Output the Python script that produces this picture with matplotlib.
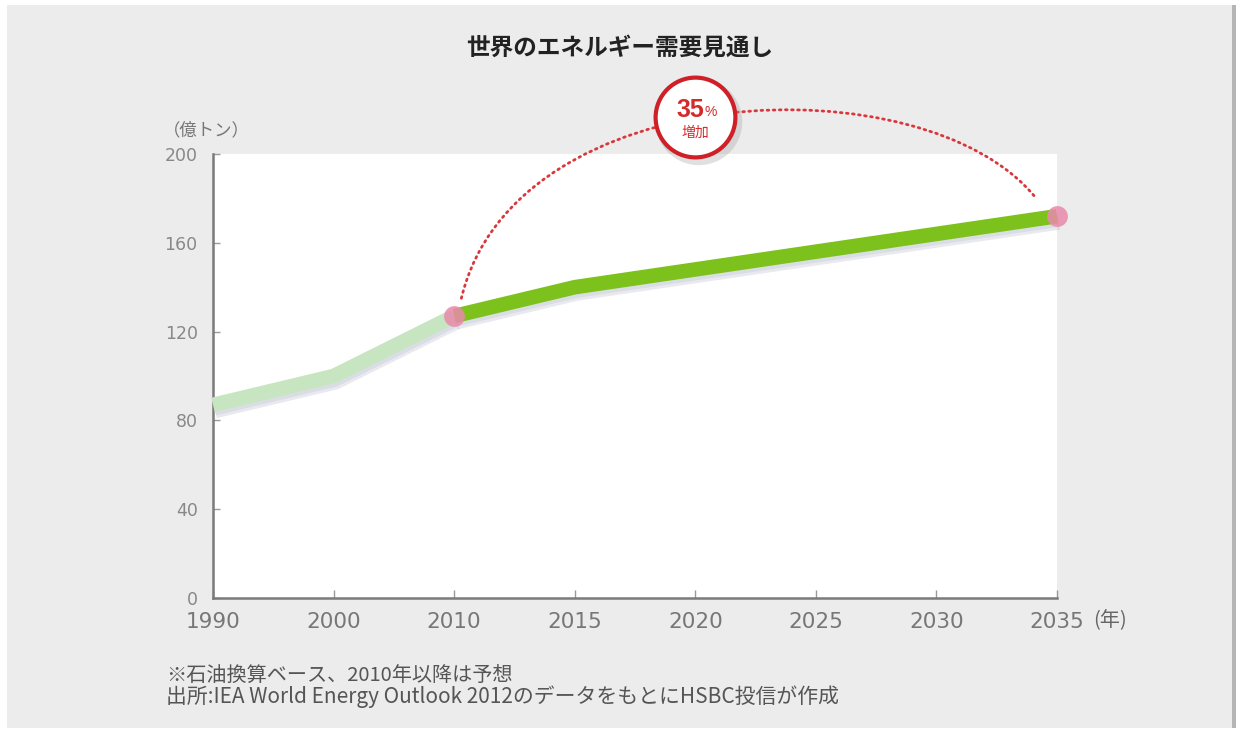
import matplotlib
matplotlib.use("Agg")
import matplotlib.pyplot as plt
from matplotlib.patches import Rectangle, PathPatch
from matplotlib.path import Path
import matplotlib.patheffects as pe

plt.rcParams['font.family'] = ['Noto Sans CJK JP', 'DejaVu Sans']

# ---- data ----
years = ["1990", "2000", "2010", "2015", "2020", "2025", "2030", "2035"]
demand = [87, 100, 127, 140, 148, 156, 164, 172]   # 億トン (石油換算)
hist_end = 2   # index of 2010 (actual up to here, forecast after)
y_ticks = [0, 40, 80, 120, 160, 200]
title = "世界のエネルギー需要見通し"
y_unit = "（億トン）"
x_unit = "(年)"
note1 = "※石油換算ベース、2010年以降は予想"
note2 = "出所:IEA World Energy Outlook 2012のデータをもとにHSBC投信が作成"
badge_big = "35"
badge_pct = "%"
badge_small = "増加"

NUM_FONT = ["DejaVu Sans", "Noto Sans CJK JP"]

W, H = 1238, 731
fig = plt.figure(figsize=(W / 100, H / 100), dpi=100, facecolor="white")

# background panel
fig.patches.append(Rectangle((7 / W, 3 / H), (1226 / W), (723 / H), transform=fig.transFigure,
                             facecolor="#ececec", edgecolor="none", zorder=-10))
fig.patches.append(Rectangle((1232 / W, 3 / H), (4 / W), (723 / H), transform=fig.transFigure,
                             facecolor="#b5b5b5", edgecolor="none", zorder=-10))

ax = fig.add_axes([213 / W, 1 - 598 / H, (1057 - 213) / W, (598 - 154) / H])
ax.set_zorder(1)
ax.set_facecolor("white")
x = list(range(len(years)))

ax.set_xlim(0, len(years) - 1)
ax.set_ylim(0, 200)

shadow = [pe.SimpleLineShadow(offset=(1.5, -4.5), shadow_color="#7a80a0", alpha=0.16, rho=1),
          pe.SimpleLineShadow(offset=(1.0, -2.5), shadow_color="#7a80a0", alpha=0.12, rho=1),
          pe.Normal()]

# historical
ax.plot(x[:hist_end + 1], demand[:hist_end + 1], color="#c8e5c1", lw=10.5,
        solid_capstyle="butt", solid_joinstyle="round", zorder=3, path_effects=shadow, clip_on=False)
# forecast
ax.plot(x[hist_end:], demand[hist_end:], color="#7dc11c", lw=10.5,
        solid_capstyle="butt", solid_joinstyle="round", zorder=4, path_effects=shadow, clip_on=False)
# pink markers
ax.plot([x[hist_end], x[-1]], [demand[hist_end], demand[-1]], "o", ms=15,
        color="#e98aab", alpha=0.85, mec="none", zorder=5, clip_on=False)

# dotted arc between 2010 and 2035
p0 = (x[hist_end] + 0.06, demand[hist_end] + 8)
p3 = (x[-1] - 0.18, demand[-1] + 8.5)
verts = [p0, (2.5, 235), (5.9, 242), p3]
arc = PathPatch(Path(verts, [Path.MOVETO, Path.CURVE4, Path.CURVE4, Path.CURVE4]),
                facecolor="none", edgecolor="#d8383c", lw=2.0, linestyle=(0, (0.6, 1.6)),
                capstyle="round", clip_on=False, zorder=6)
ax.add_patch(arc)

# badge
bx, by = 4.0, 216.5
ax.scatter([bx + 0.03], [by - 2.0], s=3900, color="#9a9a9a", alpha=0.30, edgecolor="none",
           clip_on=False, zorder=7)
ax.scatter([bx], [by], s=3300, facecolor="white", edgecolor="#cf2027", linewidth=3.0,
           clip_on=False, zorder=8)
ax.text(bx - 0.045, by + 3.5, badge_big, ha="center", va="center", fontsize=18, fontweight="bold",
        color="#d42a2a", zorder=9, clip_on=False, family=["Liberation Sans", "DejaVu Sans"])
ax.text(bx + 0.125, by + 2.5, badge_pct, ha="center", va="center", fontsize=10,
        color="#d42a2a", zorder=9, clip_on=False, family=["Liberation Sans", "DejaVu Sans"])
ax.text(bx, by - 7.0, badge_small, ha="center", va="center", fontsize=10,
        color="#d42a2a", zorder=9, clip_on=False)

# axes styling
for s in ["top", "right"]:
    ax.spines[s].set_visible(False)
for s in ["left", "bottom"]:
    ax.spines[s].set_color("#7a7a7a")
    ax.spines[s].set_linewidth(1.8)

ax.set_xticks(x)
ax.set_xticklabels(years)
ax.set_yticks(y_ticks)
ax.tick_params(axis="x", direction="in", length=6, width=1, color="#9a9a9a",
               labelsize=15.5, labelcolor="#777777", pad=10)
ax.tick_params(axis="y", direction="in", length=5, width=1, color="#9a9a9a",
               labelsize=12.5, labelcolor="#888888", pad=11)
for lab in ax.get_xticklabels() + ax.get_yticklabels():
    lab.set_family(NUM_FONT)

# texts
fig.text(620 / W, 1 - 48 / H, title, ha="center", va="center", fontsize=17, fontweight="bold", color="#222222")
fig.text(163 / W, 1 - 130 / H, y_unit, ha="left", va="center", fontsize=12.5, color="#777777")
fig.text(1093 / W, 1 - 621 / H, x_unit, ha="left", va="center", fontsize=14.5, color="#666666")
fig.text(166 / W, 1 - 675 / H, note1, ha="left", va="center", fontsize=14.5, color="#555555")
fig.text(166 / W, 1 - 697 / H, note2, ha="left", va="center", fontsize=15, color="#555555")

fig.savefig("out.png", dpi=100, facecolor=fig.get_facecolor())
